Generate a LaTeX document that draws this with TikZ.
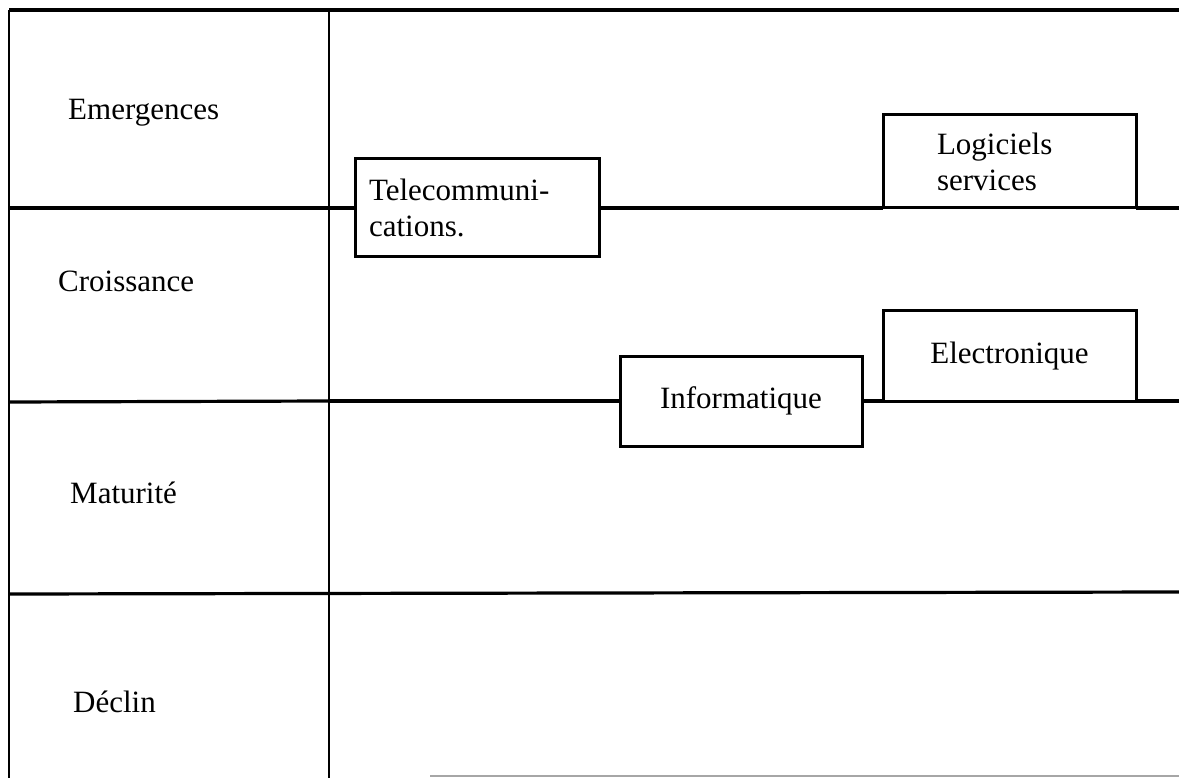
\documentclass[tikz,border=0pt]{standalone}
\usepackage{fontspec}
\setmainfont{Liberation Serif}
\begin{document}
\begin{tikzpicture}[x=1pt,y=-1pt,
  hline/.style={line width=3.2pt},
  vline/.style={line width=2.6pt},
  stage/.style={anchor=west,inner sep=0pt,font=\fontsize{31}{35}\selectfont},
  sector/.style={draw,line width=3pt,fill=white,rectangle,inner sep=0pt,outer sep=0pt,font=\fontsize{31}{36}\selectfont}]
\useasboundingbox (0,0) rectangle (1179,778);
% frame coordinates
\coordinate (tl) at (9,10);
\coordinate (tr) at (1179,10);
\coordinate (bl) at (9,778);
\coordinate (dt) at (329,10);
\coordinate (db) at (329,778);
\coordinate (l1a) at (9,208);
\coordinate (l1b) at (329,208);
\coordinate (l1e) at (1179,208);
\coordinate (l2a) at (9,402);
\coordinate (l2b) at (329,401);
\coordinate (l2e) at (1179,401);
\coordinate (l3a) at (9,594);
\coordinate (l3e) at (1179,592);
\coordinate (fb1) at (430,776);
\coordinate (fb2) at (1179,776);
% frame
\draw[hline] (tl) -- (tr);
\draw[vline] (tl) -- (bl);
\draw[vline] (dt) -- (db);
\draw[hline] (l1a) -- (l1b);
\draw[hline] (l2a) -- (l2b);
\draw[hline] (l3a) -- (l3e);
\draw[line width=2pt,black!35] (fb1) -- (fb2);
% stage labels
\node[stage] (emer) at (68,113) {Emergences};
\node[stage] (crois) at (58,281) {Croissance};
\node[stage] (matur) at (70,493) {Maturité};
\node[stage] (declin) at (73,702) {Déclin};
% sector boxes
\node[sector,minimum width=244pt,minimum height=98pt,inner xsep=14pt,text width=216pt,align=left] (tele) at (477,208) {Telecommuni-\\cations.};
\node[sector,minimum width=253pt,minimum height=93pt,inner xsep=54pt,text width=145pt,align=left] (logi) at (1009.5,161.5) {Logiciels\\services};
\node[sector,minimum width=242pt,minimum height=90pt] (info) at (741,401) {Informatique};
\node[sector,minimum width=253pt,minimum height=90pt] (elec) at (1009.5,356) {Electronique};
% connecting lines
\draw[hline] (l1b) -- (tele.west);
\draw[hline] (tele.east) -- (logi.south west);
\draw[hline] (logi.south east) -- (l1e);
\draw[hline] (l2b) -- (info.west);
\draw[hline] (info.east) -- (elec.south west);
\draw[hline] (elec.south east) -- (l2e);
\end{tikzpicture}
\end{document}
